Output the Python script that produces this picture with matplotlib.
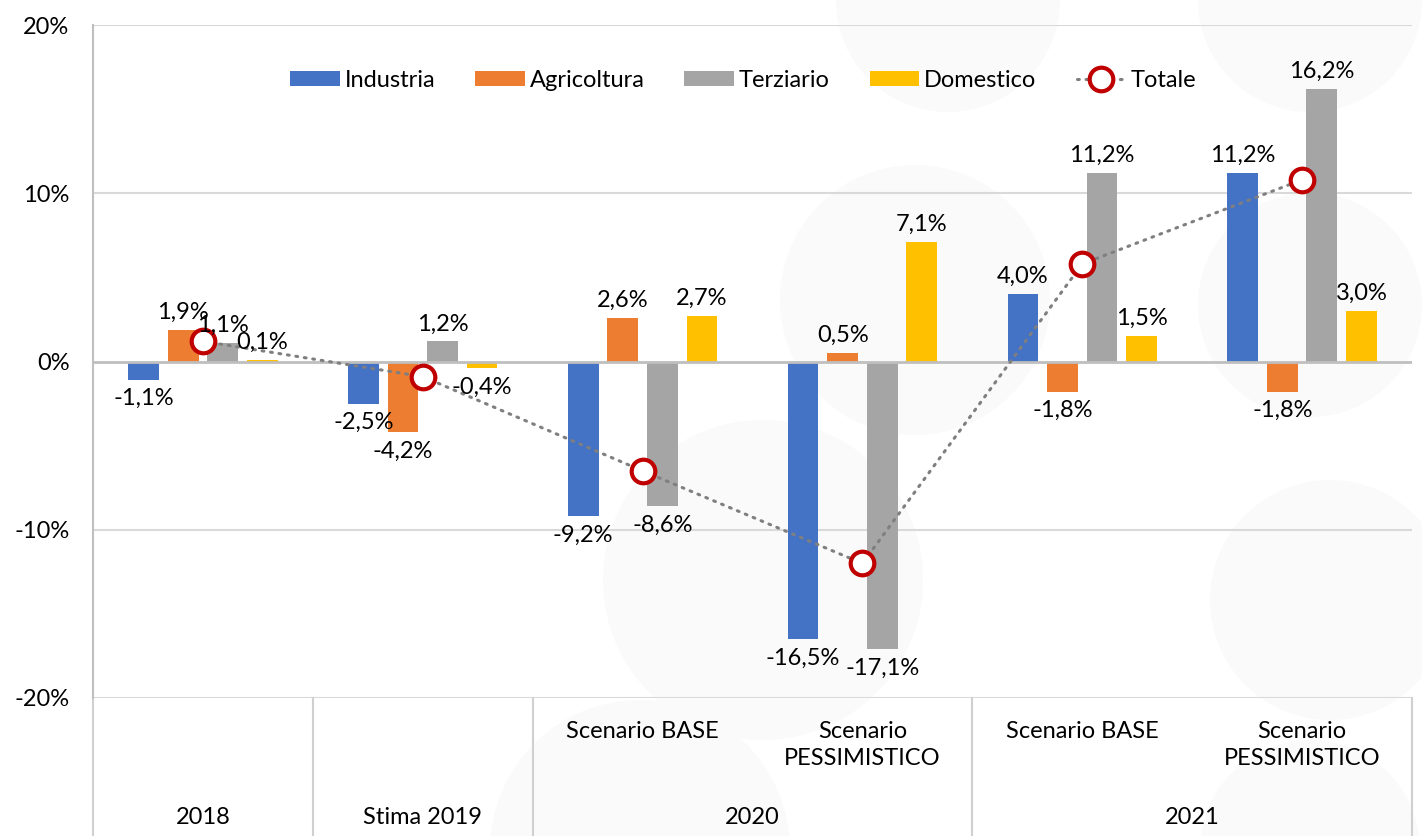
import matplotlib
matplotlib.use("Agg")
import matplotlib.pyplot as plt
import matplotlib.transforms as mtransforms
from matplotlib.patches import Circle
import numpy as np

plt.rcParams['font.family'] = ['Lato', 'DejaVu Sans']

level1_labels = ["", "", "Scenario BASE", "Scenario\nPESSIMISTICO", "Scenario BASE", "Scenario\nPESSIMISTICO"]
level2_labels = ["2018", "Stima 2019", "2020", "2021"]
level2_spans = [(0, 0), (1, 1), (2, 3), (4, 5)]

series_names = ["Industria", "Agricoltura", "Terziario", "Domestico"]
industria = [-1.1, -2.5, -9.2, -16.5, 4.0, 11.2]
agricoltura = [1.9, -4.2, 2.6, 0.5, -1.8, -1.8]
terziario = [1.1, 1.2, -8.6, -17.1, 11.2, 16.2]
domestico = [0.1, -0.4, 2.7, 7.1, 1.5, 3.0]
totale = [1.2, -0.9, -6.5, -12.0, 5.8, 10.8]

colors = ["#4472C4", "#ED7D31", "#A5A5A5", "#FFC000"]

W, H = 1422, 836
fig = plt.figure(figsize=(W/100, H/100), dpi=100)

# very faint decorative watermark in the background (figure pixel coords)
bg = fig.add_axes([0, 0, 1, 1], zorder=-10)
bg.set_xlim(0, W)
bg.set_ylim(H, 0)
bg.axis("off")
for (cx, cy, r) in [(948, 0, 112), (915, 300, 135), (1310, 0, 112), (1310, 305, 112),
                    (1330, 600, 120), (763, 580, 160), (640, 850, 150), (1310, 850, 110)]:
    bg.add_patch(Circle((cx, cy), r, color="#FAFAFA", lw=0))

ax = fig.add_axes([93/W, 1-698/H, (1412-93)/W, (698-25)/H])
ax.set_facecolor("none")

x = np.arange(len(industria))
offsets = [-0.27, -0.09, 0.09, 0.27]
width = 0.14
fs = 17

def fmt(v):
    return f"{v:.1f}%".replace(".", ",")

handles = []
for vals, off, col, name in zip([industria, agricoltura, terziario, domestico], offsets, colors, series_names):
    bars = ax.bar(x + off, vals, width, color=col, label=name, zorder=3)
    handles.append(bars)
    for xi, v in zip(x + off, vals):
        if v >= 0:
            ax.annotate(fmt(v), (xi, v), xytext=(0, 5), textcoords="offset points",
                        ha="center", va="bottom", fontsize=fs, zorder=6)
        else:
            ax.annotate(fmt(v), (xi, v), xytext=(0, -6), textcoords="offset points",
                        ha="center", va="top", fontsize=fs, zorder=6)

line, = ax.plot(x, totale, linestyle=(0, (0.6, 2.2)), dash_capstyle="round", color="#7F7F7F", lw=2.2,
                marker="o", markersize=17, markerfacecolor="white", markeredgecolor="#C00000",
                markeredgewidth=3, label="Totale", zorder=5)
handles.append(line)

ax.set_xlim(-0.5, 5.5)
ax.set_ylim(-20, 20)
ax.set_yticks([-20, -10, 0, 10, 20])
ax.set_yticklabels(["-20%", "-10%", "0%", "10%", "20%"], fontsize=fs)
ax.tick_params(axis="y", length=0, pad=17)
ax.set_xticks([])
for s in ["top", "right", "bottom"]:
    ax.spines[s].set_visible(False)
ax.spines["left"].set_color("#BFBFBF")
ax.spines["left"].set_linewidth(1.5)
for yv in [-20, -10, 10, 20]:
    ax.axhline(yv, color="#D9D9D9", lw=1.5, zorder=1)
ax.axhline(0, color="#BFBFBF", lw=2, zorder=4)

trans = mtransforms.blended_transform_factory(ax.transData, ax.transAxes)
bottom_ext = -(836-698)/673
for sx in [-0.5, 0.5, 1.5, 3.5, 5.5]:
    ax.plot([sx, sx], [0, bottom_ext], transform=trans, color="#D0D0D0", lw=1.5, clip_on=False)

for xi, lab in zip(x, level1_labels):
    if lab:
        ax.text(xi, -(721-698)/673, lab, transform=trans, ha="center", va="top",
                fontsize=fs, linespacing=1.35)
for lab, (a, b) in zip(level2_labels, level2_spans):
    ax.text((a+b)/2, -(817-698)/673, lab, transform=trans, ha="center", va="center", fontsize=fs)

ax.legend(handles=handles, labels=series_names + ["Totale"], loc="center",
          bbox_to_anchor=(0.493, 0.918), ncol=5, frameon=False, fontsize=fs,
          handlelength=2.1, handleheight=0.65, handletextpad=0.2, columnspacing=1.7)

fig.savefig("out.png", dpi=100)
